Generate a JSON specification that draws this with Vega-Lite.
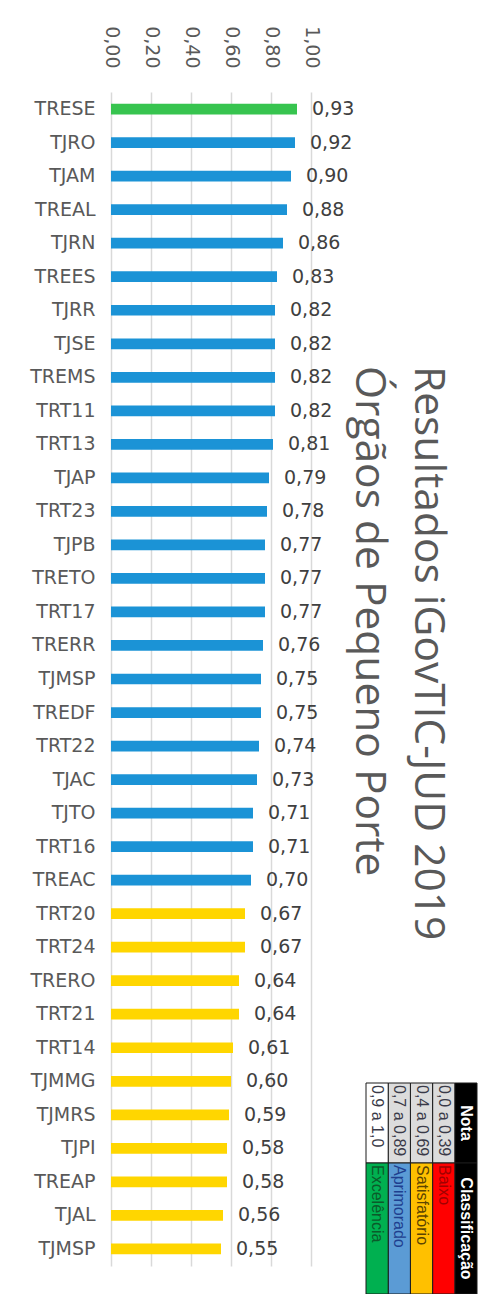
{
  "$schema": "https://vega.github.io/schema/vega-lite/v6.json",
  "padding": {"left": 29, "top": 25, "right": 5, "bottom": 1},
  "background": "white",
  "bounds": "flush",
  "spacing": 55,
  "resolve": {"scale": {"color": "independent", "fill": "independent"}},
  "config": {
    "view": {"stroke": null},
    "locale": {"number": {"decimal": ",", "thousands": ".", "grouping": [3], "currency": ["R$ ", ""]}}
  },
  "datasets": {
    "orgaos": [
      {"chave": "01|TRESE", "valor": 0.93, "faixa": "Excelência"},
      {"chave": "02|TJRO", "valor": 0.92, "faixa": "Aprimorado"},
      {"chave": "03|TJAM", "valor": 0.90, "faixa": "Aprimorado"},
      {"chave": "04|TREAL", "valor": 0.88, "faixa": "Aprimorado"},
      {"chave": "05|TJRN", "valor": 0.86, "faixa": "Aprimorado"},
      {"chave": "06|TREES", "valor": 0.83, "faixa": "Aprimorado"},
      {"chave": "07|TJRR", "valor": 0.82, "faixa": "Aprimorado"},
      {"chave": "08|TJSE", "valor": 0.82, "faixa": "Aprimorado"},
      {"chave": "09|TREMS", "valor": 0.82, "faixa": "Aprimorado"},
      {"chave": "10|TRT11", "valor": 0.82, "faixa": "Aprimorado"},
      {"chave": "11|TRT13", "valor": 0.81, "faixa": "Aprimorado"},
      {"chave": "12|TJAP", "valor": 0.79, "faixa": "Aprimorado"},
      {"chave": "13|TRT23", "valor": 0.78, "faixa": "Aprimorado"},
      {"chave": "14|TJPB", "valor": 0.77, "faixa": "Aprimorado"},
      {"chave": "15|TRETO", "valor": 0.77, "faixa": "Aprimorado"},
      {"chave": "16|TRT17", "valor": 0.77, "faixa": "Aprimorado"},
      {"chave": "17|TRERR", "valor": 0.76, "faixa": "Aprimorado"},
      {"chave": "18|TJMSP", "valor": 0.75, "faixa": "Aprimorado"},
      {"chave": "19|TREDF", "valor": 0.75, "faixa": "Aprimorado"},
      {"chave": "20|TRT22", "valor": 0.74, "faixa": "Aprimorado"},
      {"chave": "21|TJAC", "valor": 0.73, "faixa": "Aprimorado"},
      {"chave": "22|TJTO", "valor": 0.71, "faixa": "Aprimorado"},
      {"chave": "23|TRT16", "valor": 0.71, "faixa": "Aprimorado"},
      {"chave": "24|TREAC", "valor": 0.70, "faixa": "Aprimorado"},
      {"chave": "25|TRT20", "valor": 0.67, "faixa": "Satisfatório"},
      {"chave": "26|TRT24", "valor": 0.67, "faixa": "Satisfatório"},
      {"chave": "27|TRERO", "valor": 0.64, "faixa": "Satisfatório"},
      {"chave": "28|TRT21", "valor": 0.64, "faixa": "Satisfatório"},
      {"chave": "29|TRT14", "valor": 0.61, "faixa": "Satisfatório"},
      {"chave": "30|TJMMG", "valor": 0.60, "faixa": "Satisfatório"},
      {"chave": "31|TJMRS", "valor": 0.59, "faixa": "Satisfatório"},
      {"chave": "32|TJPI", "valor": 0.58, "faixa": "Satisfatório"},
      {"chave": "33|TREAP", "valor": 0.58, "faixa": "Satisfatório"},
      {"chave": "34|TJAL", "valor": 0.56, "faixa": "Satisfatório"},
      {"chave": "35|TJMSP", "valor": 0.55, "faixa": "Satisfatório"}
    ],
    "titulo": [
      {"titulo": ["Resultados iGovTIC-JUD 2019", "Órgãos de Pequeno Porte"]}
    ],
    "legenda": [
      {"linha": "Cabeçalho", "coluna": "Nota", "texto": "Nota"},
      {"linha": "Cabeçalho", "coluna": "Classificação", "texto": "Classificação"},
      {"linha": "Baixo", "coluna": "Nota", "texto": "0,0 a 0,39"},
      {"linha": "Baixo", "coluna": "Classificação", "texto": "Baixo"},
      {"linha": "Satisfatório", "coluna": "Nota", "texto": "0,4 a 0,69"},
      {"linha": "Satisfatório", "coluna": "Classificação", "texto": "Satisfatório"},
      {"linha": "Aprimorado", "coluna": "Nota", "texto": "0,7 a 0,89"},
      {"linha": "Aprimorado", "coluna": "Classificação", "texto": "Aprimorado"},
      {"linha": "Excelência", "coluna": "Nota", "texto": "0,9 a 1,0"},
      {"linha": "Excelência", "coluna": "Classificação", "texto": "Excelência"}
    ]
  },
  "hconcat": [
    {
      "width": 200,
      "height": 1174,
      "data": {"name": "orgaos"},
      "encoding": {
        "y": {
          "field": "chave",
          "type": "nominal",
          "sort": null,
          "scale": {"paddingInner": 0.68, "paddingOuter": 0.35, "align": 0.5, "round": false},
          "axis": {
            "title": null,
            "labelExpr": "split(datum.label, '|')[1]",
            "ticks": false,
            "domain": false,
            "grid": false,
            "labelPadding": 16,
            "labelFont": "DejaVu Sans",
            "labelFontSize": 19,
            "labelColor": "#595959",
            "labelOverlap": false
          }
        },
        "x": {
          "field": "valor",
          "type": "quantitative",
          "scale": {"domain": [0, 1], "nice": false, "zero": true},
          "axis": {
            "orient": "top",
            "values": [0, 0.2, 0.4, 0.6, 0.8, 1],
            "format": ".2f",
            "labelAngle": 90,
            "title": null,
            "ticks": false,
            "tickSize": 0,
            "domain": false,
            "grid": true,
            "gridColor": "#D9D9D9",
            "gridWidth": 1.5,
            "labelPadding": 24,
            "labelFont": "DejaVu Sans",
            "labelFontSize": 19,
            "labelColor": "#595959"
          }
        }
      },
      "layer": [
        {
          "mark": {"type": "bar"},
          "encoding": {
            "color": {
              "field": "faixa",
              "type": "nominal",
              "scale": {"domain": ["Excelência", "Aprimorado", "Satisfatório"], "range": ["#37C44F", "#1B93D6", "#FFD600"]},
              "legend": null
            }
          }
        },
        {
          "mark": {"type": "text", "align": "left", "baseline": "middle", "dx": 15, "font": "DejaVu Sans", "fontSize": 19, "color": "#404040"},
          "encoding": {"text": {"field": "valor", "type": "quantitative", "format": ".2f"}}
        }
      ]
    },
    {
      "bounds": "flush",
      "spacing": 443,
      "resolve": {"scale": {"color": "independent", "fill": "independent"}},
      "vconcat": [
        {
          "width": 98,
          "height": 548,
          "data": {"name": "titulo"},
          "mark": {"type": "text", "angle": 90, "align": "left", "baseline": "alphabetic", "font": "Open Sans", "fontSize": 42.5, "lineHeight": 59, "color": "#595959"},
          "encoding": {"text": {"field": "titulo", "type": "nominal"}}
        },
        {
          "bounds": "flush",
          "spacing": 0,
          "resolve": {"scale": {"color": "independent", "fill": "independent"}},
          "vconcat": [
            {
              "width": 111,
              "height": 80,
              "data": {"name": "legenda"},
              "transform": [{"filter": "datum.coluna === 'Nota'"}],
              "encoding": {
                "x": {"field": "linha", "type": "nominal", "scale": {"domain": ["Excelência", "Aprimorado", "Satisfatório", "Baixo", "Cabeçalho"], "paddingInner": 0, "paddingOuter": 0, "round": false}, "axis": null},
                "y": {"field": "coluna", "type": "nominal", "scale": {"paddingInner": 0, "paddingOuter": 0, "round": false}, "axis": null}
              },
              "layer": [
                {
                  "mark": {"type": "rect", "stroke": "#1a1a1a", "strokeWidth": 1},
                  "encoding": {
                    "fill": {
                      "field": "linha",
                      "type": "nominal",
                      "scale": {"domain": ["Cabeçalho", "Baixo", "Satisfatório", "Aprimorado", "Excelência"], "range": ["#000000", "#DCDCDC", "#DCDCDC", "#DCDCDC", "#FFFFFF"]},
                      "legend": null
                    }
                  }
                },
                {
                  "transform": [{"filter": "datum.linha === 'Cabeçalho'"}],
                  "mark": {"type": "text", "angle": 90, "align": "center", "baseline": "middle", "font": "Liberation Sans", "fontSize": 16, "fontWeight": "bold", "color": "#FFFFFF"},
                  "encoding": {"text": {"field": "texto"}}
                },
                {
                  "transform": [{"filter": "datum.linha !== 'Cabeçalho'"}],
                  "mark": {"type": "text", "angle": 90, "align": "left", "baseline": "middle", "dx": 2, "font": "Liberation Sans", "fontSize": 16, "color": "#3A3A48"},
                  "encoding": {
                    "text": {"field": "texto"},
                    "y": {"field": "coluna", "type": "nominal", "bandPosition": 0}
                  }
                }
              ]
            },
            {
              "width": 111,
              "height": 131,
              "data": {"name": "legenda"},
              "transform": [{"filter": "datum.coluna === 'Classificação'"}],
              "encoding": {
                "x": {"field": "linha", "type": "nominal", "scale": {"domain": ["Excelência", "Aprimorado", "Satisfatório", "Baixo", "Cabeçalho"], "paddingInner": 0, "paddingOuter": 0, "round": false}, "axis": null},
                "y": {"field": "coluna", "type": "nominal", "scale": {"paddingInner": 0, "paddingOuter": 0, "round": false}, "axis": null}
              },
              "layer": [
                {
                  "mark": {"type": "rect", "stroke": "#1a1a1a", "strokeWidth": 1},
                  "encoding": {
                    "fill": {
                      "field": "linha",
                      "type": "nominal",
                      "scale": {"domain": ["Cabeçalho", "Baixo", "Satisfatório", "Aprimorado", "Excelência"], "range": ["#000000", "#FF0000", "#FFC000", "#5B9BD5", "#00B050"]},
                      "legend": null
                    }
                  }
                },
                {
                  "transform": [{"filter": "datum.linha === 'Cabeçalho'"}],
                  "mark": {"type": "text", "angle": 90, "align": "center", "baseline": "middle", "font": "Liberation Sans", "fontSize": 16, "fontWeight": "bold", "color": "#FFFFFF"},
                  "encoding": {"text": {"field": "texto"}}
                },
                {
                  "transform": [{"filter": "datum.linha !== 'Cabeçalho'"}],
                  "mark": {"type": "text", "angle": 90, "align": "left", "baseline": "middle", "dx": 2, "font": "Liberation Sans", "fontSize": 16},
                  "encoding": {
                    "text": {"field": "texto"},
                    "y": {"field": "coluna", "type": "nominal", "bandPosition": 0},
                    "color": {
                      "field": "linha",
                      "type": "nominal",
                      "scale": {"domain": ["Baixo", "Satisfatório", "Aprimorado", "Excelência"], "range": ["#A00000", "#5C4400", "#1F3F8F", "#0B5A2A"]},
                      "legend": null
                    }
                  }
                }
              ]
            }
          ]
        }
      ]
    }
  ]
}
